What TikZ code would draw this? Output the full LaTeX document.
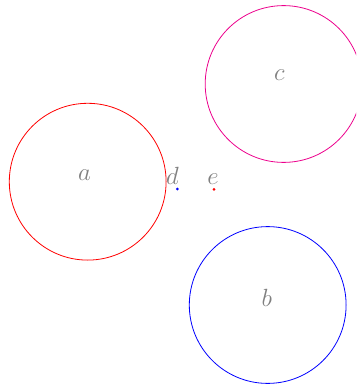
\documentclass[tikz,border=0pt]{standalone}
\begin{document}
\begin{tikzpicture}[x=1pt,y=-1pt,
  ring/.style={circle,draw=#1,line width=0.8pt,minimum size=156.8pt,inner sep=0pt},
  lbl/.style={text=gray,inner sep=0pt,font=\fontsize{23}{27}\selectfont},
  pt/.style={circle,fill=#1,inner sep=0pt,minimum size=3pt}]
\useasboundingbox (0,0) rectangle (356,388);
\clip (0,0) rectangle (356,388);
\node[ring=red] (a) at (87.7,181.7) {};
\node[ring=blue] (b) at (267.7,305) {};
\node[ring=magenta] (c) at (283.6,84) {};
\node[lbl] (la) at (84.5,175.6) {$a$};
\node[lbl] (lb) at (266.7,298) {$b$};
\node[lbl] (lc) at (279.3,75) {$c$};
\node[lbl] (ld) at (172.5,175.8) {$d$};
\node[lbl] (le) at (213,178.7) {$e$};
\node[pt=blue] (d) at (177.3,189) {};
\node[pt=red] (e) at (214,189.3) {};
\end{tikzpicture}
\end{document}
